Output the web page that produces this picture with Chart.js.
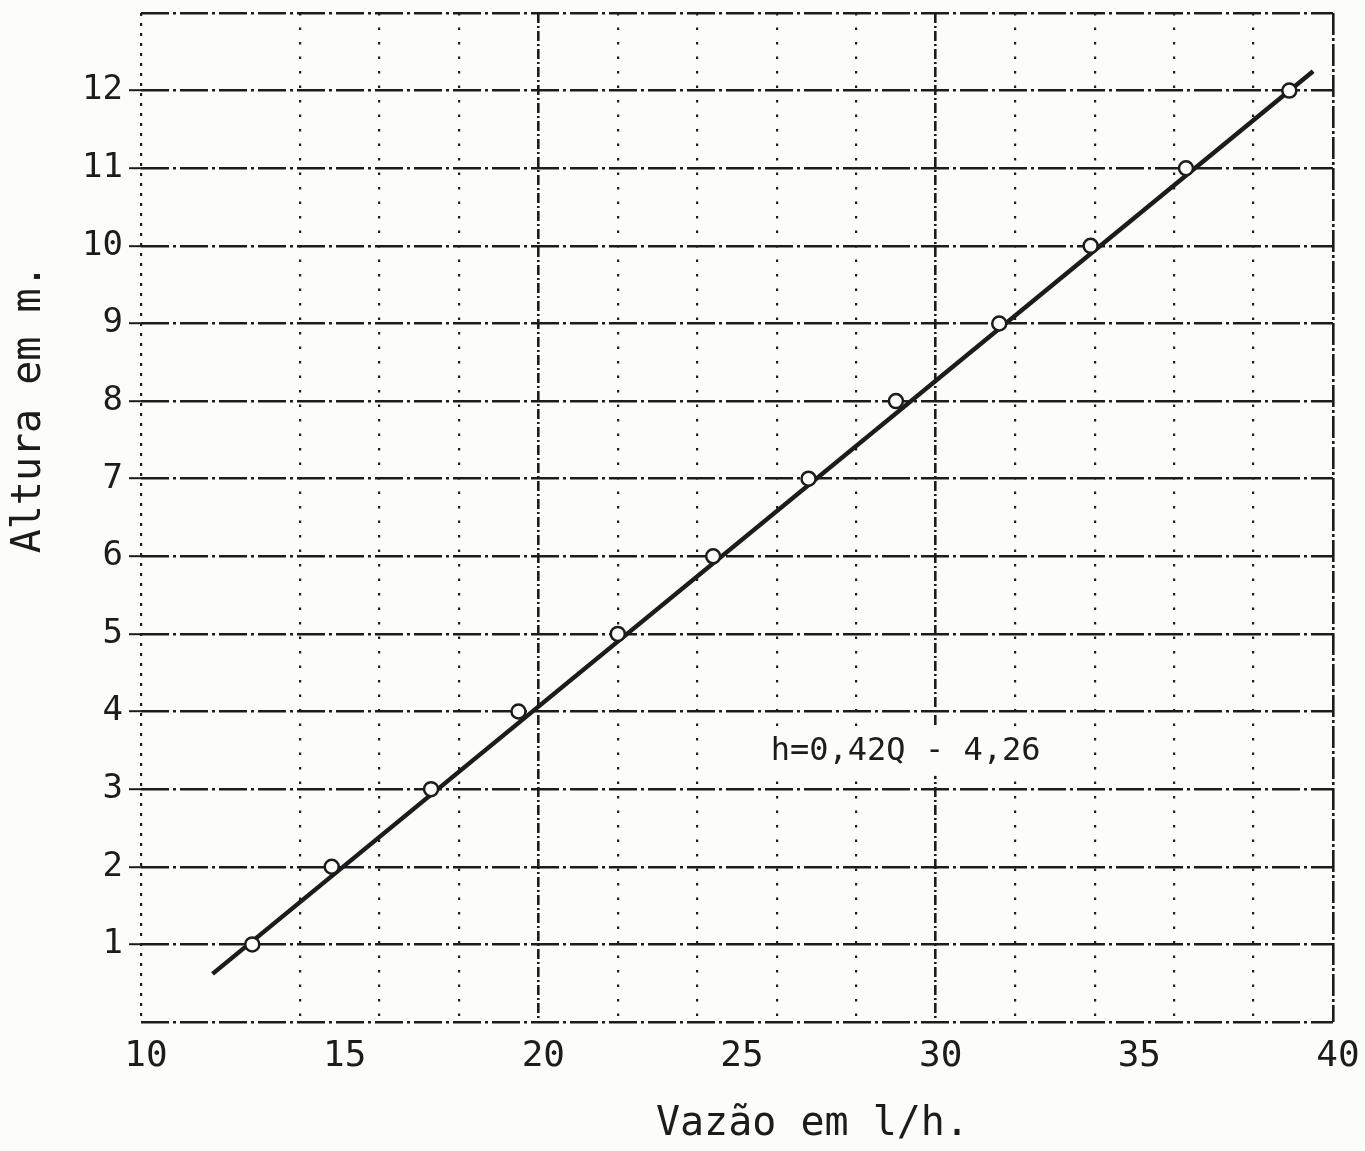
<!DOCTYPE html>
<html>
<head>
<meta charset="utf-8">
<script src="https://cdn.jsdelivr.net/npm/chart.js@4.4.1/dist/chart.umd.min.js"></script>
<style>
  html, body { margin: 0; padding: 0; background: #fcfcf8; }
  #wrap { width: 1365px; height: 1151px; position: relative; }
</style>
</head>
<body>
<div id="wrap"><canvas id="alturaChart"></canvas></div>
<script>
// pontos medidos (vazao l/h, altura m)
const vazaoPontos = [12.8, 14.8, 17.3, 19.5, 22.0, 24.4, 26.8, 29.0, 31.6, 33.9, 36.3, 38.9];
const alturaPontos = [1, 2, 3, 4, 5, 6, 7, 8, 9, 10, 11, 12];

// reta ajustada, extremos
const retaVazao = [11.8, 39.5];
const retaAltura = [0.62, 12.25];

const xTickLabels = [10, 15, 20, 25, 30, 35, 40];
const xGridLines = [10, 14, 16, 18, 20, 22, 24, 26, 28, 30, 32, 34, 36, 38, 40];
const yTicks = [0, 1, 2, 3, 4, 5, 6, 7, 8, 9, 10, 11, 12, 13];
const yTickLabels = [1, 2, 3, 4, 5, 6, 7, 8, 9, 10, 11, 12];

const equacao = 'h=0,42Q - 4,26';
const tituloX = 'Vazão em l/h.';
const tituloY = 'Altura em m.';

(function () {
  const INK = '#1c1c1c';
  const PAPER = '#fcfcf8';
  const MONO = '"DejaVu Sans Mono", monospace';

  const canvas = document.getElementById('alturaChart');

  const textos = {
    id: 'textos',
    beforeDraw(chart) {
      const ctx = chart.ctx;
      ctx.save();
      ctx.fillStyle = PAPER;
      ctx.fillRect(0, 0, chart.width, chart.height);
      ctx.restore();
    },
    afterDraw(chart) {
      const ctx = chart.ctx;
      const xs = chart.scales.x;
      const ys = chart.scales.y;
      ctx.save();

      // equacao, com fundo limpo por baixo
      ctx.font = '32px ' + MONO;
      ctx.textAlign = 'left';
      ctx.textBaseline = 'middle';
      const ex = xs.getPixelForValue(25.85);
      const ey = ys.getPixelForValue(3.48);
      const ew = ctx.measureText(equacao).width;
      ctx.fillStyle = PAPER;
      ctx.fillRect(ex - 6, ey - 24, ew + 12, 48);
      ctx.fillStyle = INK;
      ctx.fillText(equacao, ex, ey);

      // titulo x
      ctx.font = '40px ' + MONO;
      ctx.textAlign = 'center';
      ctx.fillText(tituloX, xs.getPixelForValue(26.9), chart.height - 26);

      // titulo y
      ctx.translate(30, ys.getPixelForValue(7.9));
      ctx.rotate(-Math.PI / 2);
      ctx.fillText(tituloY, 0, 0);
      ctx.restore();
    }
  };

  function xDash(ctx) {
    const v = ctx.tick ? ctx.tick.value : null;
    if (v === 10) return [3, 7];
    if (v === 20 || v === 30) return [10, 3, 2, 3];
    if (v === 40) return [22, 3, 3, 3];
    return [2.5, 12];
  }

  new Chart(canvas, {
    type: 'scatter',
    data: {
      datasets: [
        {
          label: 'Pontos',
          data: vazaoPontos.map((q, i) => ({ x: q, y: alturaPontos[i] })),
          pointRadius: 7,
          pointHoverRadius: 7,
          pointBorderWidth: 2.5,
          borderColor: INK,
          backgroundColor: PAPER,
          showLine: false
        },
        {
          label: 'Reta',
          data: retaVazao.map((q, i) => ({ x: q, y: retaAltura[i] })),
          showLine: true,
          borderColor: INK,
          borderWidth: 4.5,
          pointRadius: 0,
          fill: false
        }
      ]
    },
    options: {
      responsive: true,
      maintainAspectRatio: false,
      animation: false,
      events: [],
      layout: { padding: { top: 13, right: 32, left: 0, bottom: 0 } },
      plugins: {
        legend: { display: false },
        tooltip: { enabled: false }
      },
      scales: {
        x: {
          type: 'linear',
          min: 10,
          max: 40,
          afterBuildTicks(scale) {
            const vals = Array.from(new Set(xGridLines.concat(xTickLabels))).sort((a, b) => a - b);
            scale.ticks = vals.map(v => ({ value: v }));
          },
          afterFit(scale) {
            scale.height = 129;
            scale.paddingLeft = 0;
            scale.paddingRight = 0;
          },
          border: { display: false, dash: xDash },
          grid: {
            drawTicks: false,
            lineWidth: ctx => (ctx.tick && (ctx.tick.value === 20 || ctx.tick.value === 30 || ctx.tick.value === 40)) ? 2.6 : 2.2,
            color: ctx => (ctx.tick && xGridLines.includes(ctx.tick.value)) ? INK : 'rgba(0,0,0,0)'
          },
          ticks: {
            autoSkip: false,
            maxRotation: 0,
            padding: 13,
            labelOffset: 5,
            color: INK,
            font: { family: MONO, size: 36 },
            callback(value) {
              return xTickLabels.includes(value) ? String(value) : '';
            }
          }
        },
        y: {
          type: 'linear',
          min: 0,
          max: 13,
          afterBuildTicks(scale) {
            scale.ticks = yTicks.map(v => ({ value: v }));
          },
          afterFit(scale) {
            scale.width = 141;
            scale.paddingTop = 0;
            scale.paddingBottom = 0;
          },
          border: { display: false, dash: [28, 4, 3, 4] },
          grid: {
            drawTicks: true,
            tickLength: 12,
            tickWidth: 2,
            tickBorderDash: [],
            tickColor: ctx => (ctx.tick && yTickLabels.includes(ctx.tick.value)) ? INK : 'rgba(0,0,0,0)',
            lineWidth: 2.4,
            color: INK
          },
          ticks: {
            autoSkip: false,
            padding: 6,
            color: INK,
            font: { family: MONO, size: 34 },
            callback(value) {
              return yTickLabels.includes(value) ? String(value) : '';
            }
          }
        }
      }
    },
    plugins: [textos]
  });
})();
</script>
</body>
</html>
